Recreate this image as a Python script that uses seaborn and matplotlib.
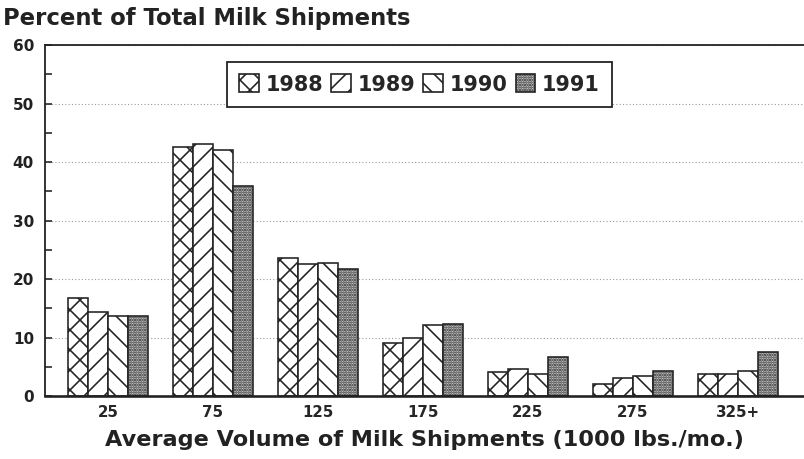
import numpy as np
import pandas as pd
import seaborn as sns
import matplotlib.pyplot as plt
from matplotlib.patches import Patch

volumes = ['25', '75', '125', '175', '225', '275', '325+']
years = ['1988', '1989', '1990', '1991']
pct_1988 = [16.8, 42.6, 23.6, 9.0, 4.1, 2.1, 3.7]
pct_1989 = [14.4, 43.1, 22.6, 10.0, 4.7, 3.0, 3.7]
pct_1990 = [13.6, 42.0, 22.7, 12.1, 3.8, 3.5, 4.2]
pct_1991 = [13.6, 35.9, 21.7, 12.3, 6.7, 4.3, 7.5]

hatches = ['xx', '//', '\\\\', '........']
faces = ['white', 'white', 'white', '#c8c8c8']

df = pd.DataFrame({
    'volume': volumes * 4,
    'year': [y for y in years for _ in volumes],
    'pct': pct_1988 + pct_1989 + pct_1990 + pct_1991,
})

# dpi 120 so that the doubled hatches come out about 20 px apart
DPI = 120
def pt(px):
    # pixel size -> points at this dpi
    return px * 72 / DPI

sns.set_style('white')
plt.rcParams['font.family'] = ['DejaVu Sans']
plt.rcParams['hatch.linewidth'] = pt(1.6)

fig = plt.figure(figsize=(804 / DPI, 459 / DPI), dpi=DPI)
ax = fig.add_axes([45 / 804, 1 - 396 / 459, 1 - 45 / 804, (396 - 45) / 459])

sns.barplot(data=df, x='volume', y='pct', hue='year', order=volumes,
            hue_order=years, width=0.76, gap=0, ax=ax, legend=False)

for cont, h, fc in zip(ax.containers, hatches, faces):
    for bar in cont:
        bar.set_facecolor(fc)
        bar.set_edgecolor('#222222')
        bar.set_hatch(h)
        bar.set_linewidth(pt(1.6))

ax.set_xlim(-0.6, 6.63)
ax.set_ylim(0, 60)
ax.set_yticks(range(0, 61, 10))
ax.set_yticks(range(5, 60, 10), minor=True)
ax.yaxis.grid(True, linestyle=(0, (1, 2)), color='#999999', linewidth=pt(1.1))
ax.set_axisbelow(True)
ax.tick_params(axis='y', which='both', direction='in', length=pt(7), width=pt(1.6),
               left=True, pad=pt(11), colors='#222222')
ax.tick_params(axis='x', length=0, pad=pt(9))
for lab in ax.get_yticklabels():
    lab.set_fontsize(pt(15.3))
    lab.set_fontweight('bold')
for lab in ax.get_xticklabels():
    lab.set_fontsize(pt(15))
    lab.set_fontweight('bold')

ax.spines['right'].set_visible(False)
for s in ['left', 'top']:
    ax.spines[s].set_linewidth(pt(1.8))
    ax.spines[s].set_color('#222222')
ax.spines['bottom'].set_linewidth(pt(2.6))
ax.spines['bottom'].set_color('#222222')

ax.set_xlabel('Average Volume of Milk Shipments (1000 lbs./mo.)',
              fontsize=pt(22.4), fontweight='bold', labelpad=pt(10), color='#222222')
ax.set_ylabel('')

fig.text(3 / 804, 1 - 19 / 459, 'Percent of Total Milk Shipments',
         fontsize=pt(22.8), fontweight='bold', va='center', ha='left', color='#222222')

handles = [Patch(facecolor=fc, edgecolor='#222222', hatch=h, label=y)
           for y, h, fc in zip(years, hatches, faces)]
leg = fig.legend(handles=handles, loc='upper left', ncol=4,
                 bbox_to_anchor=(227 / 804, 1 - 62 / 459), borderaxespad=0,
                 prop={'weight': 'bold', 'size': pt(20.8)},
                 handlelength=0.95, handleheight=0.95, handletextpad=0.3,
                 columnspacing=0.4, fancybox=False, framealpha=1,
                 edgecolor='#222222', borderpad=0.6)
leg.get_frame().set_linewidth(pt(1.8))

fig.savefig('out.png', dpi=DPI)
